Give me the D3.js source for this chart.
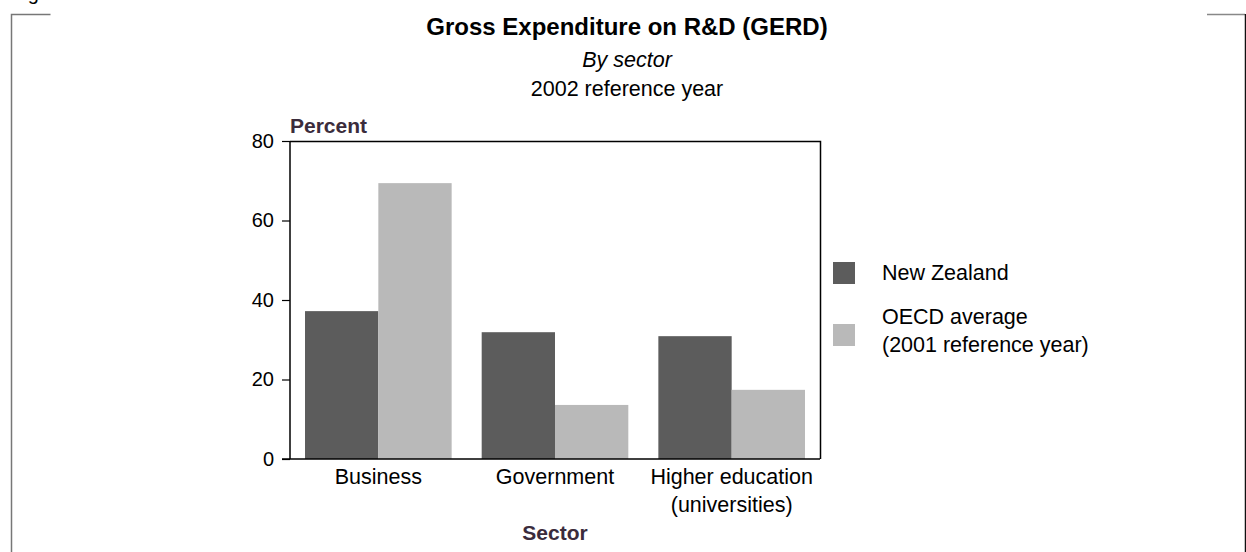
<!DOCTYPE html>
<html>
<head>
<meta charset="utf-8">
<script src="https://cdn.jsdelivr.net/npm/d3@7"></script>
<style>
  html, body { margin: 0; padding: 0; background: #fff; }
  svg { display: block; font-family: "Liberation Sans", Arial, sans-serif; }
</style>
</head>
<body>
<svg id="chart" width="1246" height="552"></svg>
<script>
// GERD by sector, percent of total
const sectors = ["Business", "Government", "Higher education|(universities)"];
const seriesNames = ["New Zealand", "OECD average|(2001 reference year)"];
const newZealand = [37.2, 31.9, 30.9];
const oecdAverage = [69.4, 13.6, 17.4];
const yTicks = [0, 20, 40, 60, 80];
const seriesColors = ["#5c5c5c", "#b9b9b9"];

const svg = d3.select("#chart");

// Page frame and the figure caption running off the top edge
svg.append("text").attr("x", 11).attr("y", -0.5)
  .attr("font-size", 20).attr("fill", "#000").text("Figure");
svg.append("path").attr("d", "M11.5,552V14.5H50.5")
  .attr("fill", "none").attr("stroke", "#777").attr("stroke-width", 1.5);
svg.append("path").attr("d", "M1207,14.5H1245")
  .attr("fill", "none").attr("stroke", "#888").attr("stroke-width", 1.5);
svg.append("path").attr("d", "M1245.5,14V552")
  .attr("fill", "none").attr("stroke", "#111").attr("stroke-width", 1.5);

// Titles
const cx = 627;
svg.append("text").attr("x", cx).attr("y", 35).attr("text-anchor", "middle")
  .attr("font-size", 24).attr("font-weight", "bold").attr("fill", "#000")
  .text("Gross Expenditure on R&D (GERD)");
svg.append("text").attr("x", cx).attr("y", 67).attr("text-anchor", "middle")
  .attr("font-size", 21.5).attr("font-style", "italic").attr("fill", "#000")
  .text("By sector");
svg.append("text").attr("x", cx).attr("y", 96).attr("text-anchor", "middle")
  .attr("font-size", 21.5).attr("fill", "#000")
  .text("2002 reference year");

// Plot area
const plot = { left: 290, right: 820, top: 141, bottom: 459 };

const x0 = d3.scaleBand().domain(sectors)
  .range([plot.left, plot.right]).paddingInner(0.17).paddingOuter(0.085);
const x1 = d3.scaleBand().domain([0, 1]).range([0, x0.bandwidth()]);
const y = d3.scaleLinear().domain([0, 80]).range([plot.bottom, plot.top]);

const rows = sectors.map((s, i) => ({ sector: s, values: [newZealand[i], oecdAverage[i]] }));

const groups = svg.append("g").selectAll("g").data(rows).join("g")
  .attr("transform", d => `translate(${x0(d.sector)},0)`);
groups.selectAll("rect").data(d => d.values.map((v, k) => ({ v, k }))).join("rect")
  .attr("x", d => x1(d.k))
  .attr("width", x1.bandwidth())
  .attr("y", d => y(d.v))
  .attr("height", d => y(0) - y(d.v))
  .attr("fill", d => seriesColors[d.k]);

// Frame around the plot: top and right edges
svg.append("path")
  .attr("d", `M${plot.left},${plot.top + 0.5}H${plot.right + 0.5}V${plot.bottom}`)
  .attr("fill", "none").attr("stroke", "#000").attr("stroke-width", 1.5);

// Y axis
const yAxis = svg.append("g").attr("transform", `translate(${plot.left},0)`)
  .call(d3.axisLeft(y).tickValues(yTicks).tickSize(8).tickPadding(8).tickFormat(d3.format("d")));
yAxis.select(".domain").attr("stroke", "#000").attr("stroke-width", 1.5).attr("d", `M0,${plot.top}V${plot.bottom}`);
yAxis.selectAll(".tick line").attr("stroke", "#000").attr("stroke-width", 1.2);
yAxis.selectAll(".tick text").attr("font-size", 20).attr("fill", "#000")
  .attr("font-family", "Liberation Sans, Arial, sans-serif");

// X axis
const xAxis = svg.append("g").attr("transform", `translate(0,${plot.bottom})`)
  .call(d3.axisBottom(x0).tickSize(0).tickPadding(0).tickFormat(""));
xAxis.select(".domain").attr("stroke", "#000").attr("stroke-width", 1.5)
  .attr("d", `M${plot.left - 8},0H${plot.right}`);
xAxis.selectAll(".tick").each(function(d) {
  const lines = d.split("|");
  const t = d3.select(this).append("text")
    .attr("text-anchor", "middle").attr("font-size", 21.5).attr("fill", "#000")
    .attr("font-family", "Liberation Sans, Arial, sans-serif");
  lines.forEach((ln, i) => t.append("tspan").attr("x", 0).attr("y", 25 + i * 28).text(ln));
});

// Axis titles
svg.append("text").attr("x", plot.left).attr("y", 133)
  .attr("font-size", 21).attr("font-weight", "bold").attr("fill", "#3b2c3c")
  .text("Percent");
svg.append("text").attr("x", (plot.left + plot.right) / 2).attr("y", 540)
  .attr("text-anchor", "middle").attr("font-size", 21).attr("font-weight", "bold").attr("fill", "#3b2c3c")
  .text("Sector");

// Legend
const legend = svg.append("g").attr("transform", "translate(833,262)");
seriesNames.forEach((name, i) => {
  const g = legend.append("g").attr("transform", `translate(0,${i * 62})`);
  g.append("rect").attr("width", 22).attr("height", 22).attr("fill", seriesColors[i]);
  const t = g.append("text").attr("font-size", 21.5).attr("fill", "#000");
  const lines = name.split("|");
  const y0 = lines.length === 1 ? 18 : 0;
  lines.forEach((ln, j) => t.append("tspan").attr("x", 49).attr("y", y0 + j * 28).text(ln));
});
</script>
</body>
</html>
